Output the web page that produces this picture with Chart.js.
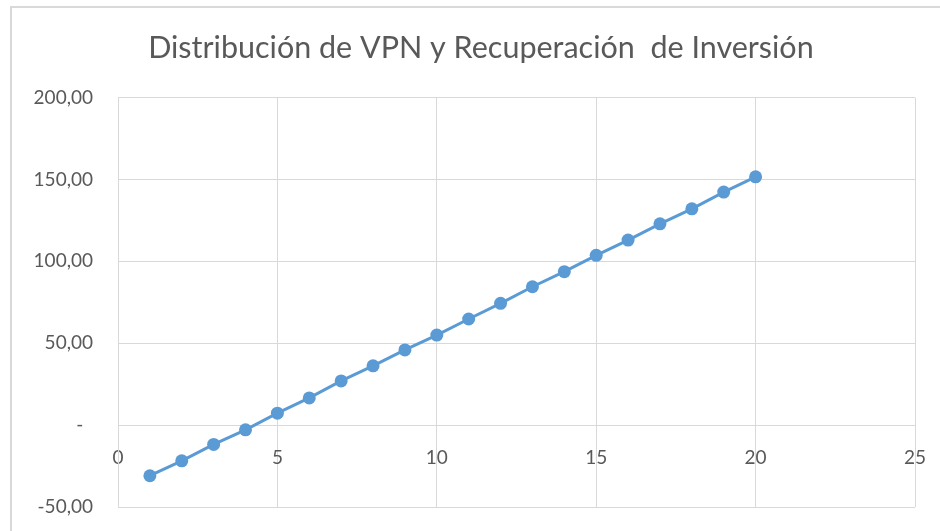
<!DOCTYPE html>
<html>
<head>
<meta charset="utf-8">
<script src="https://cdn.jsdelivr.net/npm/chart.js@4"></script>
<style>
html, body { margin: 0; padding: 0; background: #fff; }
#wrap { position: relative; width: 940px; height: 531px; }
</style>
</head>
<body>
<div id="wrap"><canvas id="vpnChart" width="940" height="531"></canvas></div>
<script>
const title = "Distribución de VPN y Recuperación  de Inversión";

// periodos y VPN acumulado
const periods = [1, 2, 3, 4, 5, 6, 7, 8, 9, 10, 11, 12, 13, 14, 15, 16, 17, 18, 19, 20];
const vpn = [-30.9, -21.8, -11.8, -2.9, 7.3, 16.6, 27.0, 36.2, 45.9, 55.0,
             64.8, 74.4, 84.5, 93.7, 103.7, 113.0, 122.9, 132.1, 142.3, 151.6];

const xTicks = [0, 5, 10, 15, 20, 25];
const yTicks = [-50, 0, 50, 100, 150, 200];

const lineColor = "#5b9bd5";
const gridColor = "#d9d9d9";
const textColor = "#595959";
const fontFamily = "Lato, 'Open Sans', sans-serif";

function fmtY(v) {
  if (v === 0) return "-  ";
  return v.toFixed(2).replace(".", ",");
}

// borde del area del grafico (como en Excel)
const frame = {
  id: "frame",
  beforeDraw(chart) {
    const ctx = chart.ctx;
    ctx.save();
    ctx.strokeStyle = gridColor;
    ctx.lineWidth = 2;
    ctx.beginPath();
    ctx.moveTo(11, chart.height);
    ctx.lineTo(11, 7);
    ctx.lineTo(chart.width, 7);
    ctx.stroke();
    ctx.restore();
  }
};

const points = periods.map((p, i) => ({ x: p, y: vpn[i] }));

new Chart(document.getElementById("vpnChart"), {
  type: "scatter",
  data: {
    datasets: [{
      label: "VPN",
      data: points,
      showLine: true,
      borderColor: lineColor,
      backgroundColor: lineColor,
      borderWidth: 3,
      pointRadius: 6.5,
      pointHoverRadius: 6.5,
      pointBorderWidth: 0
    }]
  },
  options: {
    responsive: false,
    animation: false,
    layout: { padding: { left: 0, right: 25, top: 0, bottom: 24 } },
    plugins: {
      legend: { display: false },
      tooltip: { enabled: false },
      title: {
        display: true,
        // espacios iniciales para centrar el titulo como en el original
        text: "\u00a0".repeat(6) + title,
        color: textColor,
        font: { family: fontFamily, size: 30.5, weight: "normal" },
        padding: { top: 30, bottom: 31 }
      }
    },
    scales: {
      x: {
        type: "linear",
        position: { y: 0 },
        min: 0,
        max: 25,
        afterBuildTicks(scale) { scale.ticks = xTicks.map(v => ({ value: v })); },
        afterFit(scale) { scale.paddingLeft = 0; scale.paddingRight = 0; },
        ticks: {
          color: textColor,
          font: { family: fontFamily, size: 19 },
          padding: 21,
          maxRotation: 0
        },
        grid: { color: gridColor, drawTicks: false, lineWidth: 1 },
        border: { color: gridColor }
      },
      y: {
        type: "linear",
        position: "left",
        min: -50,
        max: 200,
        afterBuildTicks(scale) { scale.ticks = yTicks.map(v => ({ value: v })); },
        afterFit(scale) {
          scale.width = 118;
          scale.paddingTop = 0;
          scale.paddingBottom = 0;
        },
        ticks: {
          color: textColor,
          font: { family: fontFamily, size: 19 },
          padding: 25,
          callback: v => fmtY(v)
        },
        grid: { color: gridColor, drawTicks: false, lineWidth: 1 },
        border: { color: gridColor }
      }
    }
  },
  plugins: [frame]
});
</script>
</body>
</html>
